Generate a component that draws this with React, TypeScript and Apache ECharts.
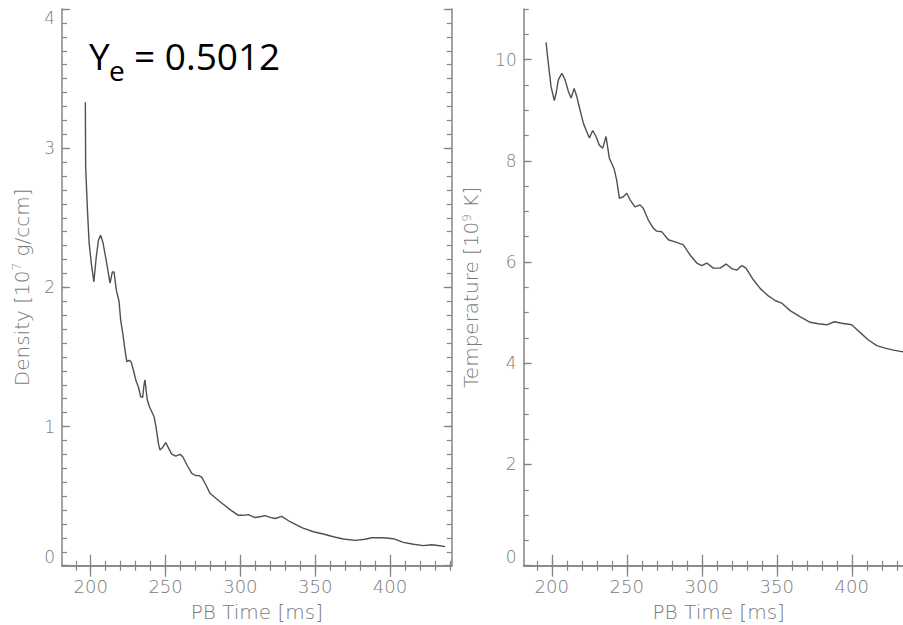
import React, { useEffect, useRef } from "react";
import * as echarts from "echarts";

// PB time [ms] and density [10^7 g/ccm]
const densityTime = [
  196.4, 196.6, 197.7, 198.9, 200.4, 202.1, 203.7, 205.2, 206.6, 208.2, 210.4, 212.9, 214.4, 215.6,
  217.1, 218.9, 220.0, 221.4, 222.9, 224.1, 225.6, 226.9, 228.5, 230.1, 231.8, 233.4, 234.7, 235.6,
  236.2, 237.8, 239.2, 240.8, 242.3, 243.6, 245.2, 246.3, 248.0, 250.1, 252.0, 254.1, 256.8, 259.7,
  261.5, 264.5, 267.5, 270.0, 272.4, 274.2, 277.0, 279.7, 283.0, 286.4, 293.1, 298.6, 302.0, 305.3,
  309.8, 313.0, 316.5, 320.0, 323.2, 327.6, 333.2, 341.0, 348.8, 355.4, 362.1, 368.8, 376.6, 383.3,
  387.8, 395.5, 402.2, 408.9, 415.6, 422.3, 427.9, 432.0, 436.8,
];
const densityValues = [
  3.33, 2.87, 2.58, 2.32, 2.17, 2.04, 2.22, 2.34, 2.375, 2.32, 2.19, 2.03, 2.11, 2.11,
  1.98, 1.9, 1.765, 1.67, 1.55, 1.466, 1.475, 1.466, 1.406, 1.334, 1.286, 1.214, 1.21, 1.3,
  1.335, 1.19, 1.142, 1.106, 1.07, 0.999, 0.879, 0.831, 0.85, 0.884, 0.845, 0.802, 0.788, 0.8,
  0.783, 0.72, 0.664, 0.648, 0.647, 0.635, 0.58, 0.52, 0.49, 0.46, 0.403, 0.362, 0.362, 0.367,
  0.346, 0.352, 0.36, 0.347, 0.339, 0.354, 0.316, 0.273, 0.244, 0.228, 0.208, 0.192, 0.182, 0.19,
  0.201, 0.201, 0.194, 0.168, 0.154, 0.144, 0.151, 0.145, 0.137,
];

// PB time [ms] and temperature [10^9 K]
const tempTime = [
  196.2, 197.7, 199.5, 201.7, 203.0, 204.4, 206.7, 208.9, 211.1, 212.9, 214.9, 216.7, 218.9, 221.1,
  223.3, 225.1, 227.3, 229.5, 231.7, 234.0, 236.2, 238.4, 241.5, 243.3, 245.1, 247.7, 250.0, 252.2,
  255.5, 258.9, 261.1, 264.4, 267.7, 270.0, 273.3, 277.7, 283.3, 287.7, 292.2, 296.7, 300.0, 303.3,
  307.7, 312.2, 316.2, 320.0, 323.3, 326.7, 329.5, 334.4, 338.9, 344.4, 348.9, 353.3, 358.9, 365.5,
  372.2, 377.7, 383.3, 388.4, 393.3, 400.0, 405.5, 411.1, 416.7, 422.2, 427.8, 433.3, 437.0,
];
const tempValues = [
  10.34, 9.93, 9.47, 9.19, 9.35, 9.6, 9.73, 9.6, 9.37, 9.24, 9.43, 9.27, 9.0, 8.74,
  8.58, 8.45, 8.6, 8.48, 8.31, 8.25, 8.48, 8.05, 7.85, 7.62, 7.26, 7.29, 7.36, 7.23,
  7.09, 7.13, 7.06, 6.83, 6.67, 6.61, 6.6, 6.44, 6.39, 6.34, 6.14, 5.98, 5.93, 5.98,
  5.88, 5.88, 5.96, 5.87, 5.84, 5.93, 5.88, 5.65, 5.48, 5.33, 5.24, 5.19, 5.04, 4.92,
  4.81, 4.78, 4.76, 4.82, 4.79, 4.76, 4.61, 4.46, 4.35, 4.3, 4.26, 4.23, 4.22,
];

// Tick positions
const xMajorTicks = [200, 250, 300, 350, 400];
const xMinorTicks = [190, 200, 210, 220, 230, 240, 250, 260, 270, 280, 290, 300, 310, 320, 330, 340, 350, 360, 370, 380, 390, 400, 410, 420, 430, 440];
const densityMajorTicks = [0, 1, 2, 3, 4];
const densityMinorTicks = [
  0, 0.1, 0.2, 0.3, 0.4, 0.5, 0.6, 0.7, 0.8, 0.9, 1, 1.1, 1.2, 1.3, 1.4, 1.5, 1.6, 1.7, 1.8, 1.9,
  2, 2.1, 2.2, 2.3, 2.4, 2.5, 2.6, 2.7, 2.8, 2.9, 3, 3.1, 3.2, 3.3, 3.4, 3.5, 3.6, 3.7, 3.8, 3.9, 4,
];
const tempMajorTicks = [0, 2, 4, 6, 8, 10];
const tempMinorTicks = [0, 0.5, 1, 1.5, 2, 2.5, 3, 3.5, 4, 4.5, 5, 5.5, 6, 6.5, 7, 7.5, 8, 8.5, 9, 9.5, 10, 10.5, 11];

const yeLabel = "Y";
const yeSub = "e";
const yeValue = "= 0.5012";

const AXIS_COLOR = "#858585";
const LABEL_COLOR = "#7a7a7a";
const FONT = "DejaVu Sans";

function toPairs(xs: number[], ys: number[]) {
  return xs.map((x, i) => [x, ys[i]]);
}

function xAxes(gridIndex: number, min: number, max: number) {
  const base = {
    type: "value",
    gridIndex,
    min,
    max,
    splitLine: { show: false },
  };
  return [
    {
      ...base,
      position: "bottom",
      name: "PB Time [ms]",
      nameLocation: "middle",
      nameGap: 36,
      nameTextStyle: { color: LABEL_COLOR, fontFamily: FONT, fontSize: 20, fontWeight: 200 },
      axisLine: { show: true, lineStyle: { color: AXIS_COLOR, width: 1.5 } },
      axisTick: { show: true, inside: true, length: 11, customValues: xMajorTicks, lineStyle: { color: AXIS_COLOR, width: 1.3 } },
      axisLabel: { show: true, customValues: xMajorTicks, margin: 12, color: LABEL_COLOR, fontFamily: FONT, fontSize: 18, fontWeight: 200 },
    },
    {
      ...base,
      position: "bottom",
      axisLine: { show: false },
      axisTick: { show: true, inside: true, length: 5, customValues: xMinorTicks, lineStyle: { color: AXIS_COLOR, width: 1.2 } },
      axisLabel: { show: false },
    },
    {
      ...base,
      position: "top",
      axisLine: { show: true, lineStyle: { color: AXIS_COLOR, width: 1.5 } },
      axisTick: { show: true, inside: true, length: 11, customValues: xMajorTicks, lineStyle: { color: AXIS_COLOR, width: 1.3 } },
      axisLabel: { show: false },
    },
    {
      ...base,
      position: "top",
      axisLine: { show: false },
      axisTick: { show: true, inside: true, length: 5, customValues: xMinorTicks, lineStyle: { color: AXIS_COLOR, width: 1.2 } },
      axisLabel: { show: false },
    },
  ];
}

function yAxes(
  gridIndex: number,
  min: number,
  max: number,
  major: number[],
  minor: number[],
  name: string,
  nameGap: number,
  alignMax: boolean
) {
  const base = {
    type: "value",
    gridIndex,
    min,
    max,
    splitLine: { show: false },
  };
  return [
    {
      ...base,
      position: "left",
      name,
      nameLocation: "middle",
      nameGap,
      nameRotate: 90,
      nameTextStyle: {
        color: LABEL_COLOR,
        fontFamily: FONT,
        fontSize: 20,
        fontWeight: 200,
        rich: {
          sup: { color: LABEL_COLOR, fontFamily: FONT, fontSize: 12, fontWeight: 200, verticalAlign: "bottom", padding: [0, 0, 9, 0] },
        },
      },
      axisLine: { show: true, lineStyle: { color: AXIS_COLOR, width: 1.5 } },
      axisTick: { show: true, inside: true, length: 8, customValues: major, lineStyle: { color: AXIS_COLOR, width: 1.3 } },
      axisLabel: {
        show: true,
        customValues: major,
        margin: 7,
        color: LABEL_COLOR,
        fontFamily: FONT,
        fontSize: 17,
        fontWeight: 200,
        verticalAlignMinLabel: "bottom",
        verticalAlignMaxLabel: alignMax ? "top" : "middle",
      },
    },
    {
      ...base,
      position: "left",
      axisLine: { show: false },
      axisTick: { show: true, inside: true, length: 5, customValues: minor, lineStyle: { color: AXIS_COLOR, width: 1.2 } },
      axisLabel: { show: false },
    },
    {
      ...base,
      position: "right",
      axisLine: { show: true, lineStyle: { color: AXIS_COLOR, width: 1.5 } },
      axisTick: { show: true, inside: true, length: 8, customValues: major, lineStyle: { color: AXIS_COLOR, width: 1.3 } },
      axisLabel: { show: false },
    },
    {
      ...base,
      position: "right",
      axisLine: { show: false },
      axisTick: { show: true, inside: true, length: 5, customValues: minor, lineStyle: { color: AXIS_COLOR, width: 1.2 } },
      axisLabel: { show: false },
    },
  ];
}

export default function App() {
  const ref = useRef<HTMLDivElement>(null);

  useEffect(() => {
    if (!ref.current) return;
    const chart = echarts.init(ref.current, undefined, { renderer: "svg" });
    const option = {
      animation: false,
      backgroundColor: "#ffffff",
      grid: [
        { left: 62, top: 9, width: 389.7, height: 556.7, containLabel: false, outerBoundsMode: "none" },
        { left: 523.7, top: 9, width: 390, height: 556.7, containLabel: false, outerBoundsMode: "none" },
      ],
      xAxis: [...xAxes(0, 180.8, 441.2), ...xAxes(1, 181.3, 441.3)],
      yAxis: [
        ...yAxes(0, 0, 4, densityMajorTicks, densityMinorTicks, "Density [10{sup|7} g/ccm]", 30, true),
        ...yAxes(1, 0, 11, tempMajorTicks, tempMinorTicks, "Temperature [10{sup|9} K]", 42, false),
      ],
      series: [
        {
          type: "line",
          xAxisIndex: 0,
          yAxisIndex: 0,
          data: toPairs(densityTime, densityValues),
          showSymbol: false,
          symbol: "none",
          lineStyle: { color: "#505050", width: 1.4 },
        },
        {
          type: "line",
          xAxisIndex: 4,
          yAxisIndex: 4,
          data: toPairs(tempTime, tempValues),
          showSymbol: false,
          symbol: "none",
          lineStyle: { color: "#505050", width: 1.4 },
        },
      ],
      graphic: [
        {
          type: "text",
          left: 89,
          top: 37,
          style: { text: yeLabel, fontFamily: "Open Sans", fontSize: 37, fill: "#000" },
        },
        {
          type: "text",
          left: 109,
          top: 56,
          style: { text: yeSub, fontFamily: "Open Sans", fontSize: 28, fill: "#000" },
        },
        {
          type: "text",
          left: 134,
          top: 37,
          style: { text: yeValue, fontFamily: "Open Sans", fontSize: 37, fill: "#000" },
        },
      ],
    };
    chart.setOption(option as any);
    return () => chart.dispose();
  }, []);

  return (
    <div
      ref={ref}
      style={{ position: "absolute", left: 0, top: 0, width: 903, height: 625, background: "#fff" }}
    />
  );
}
